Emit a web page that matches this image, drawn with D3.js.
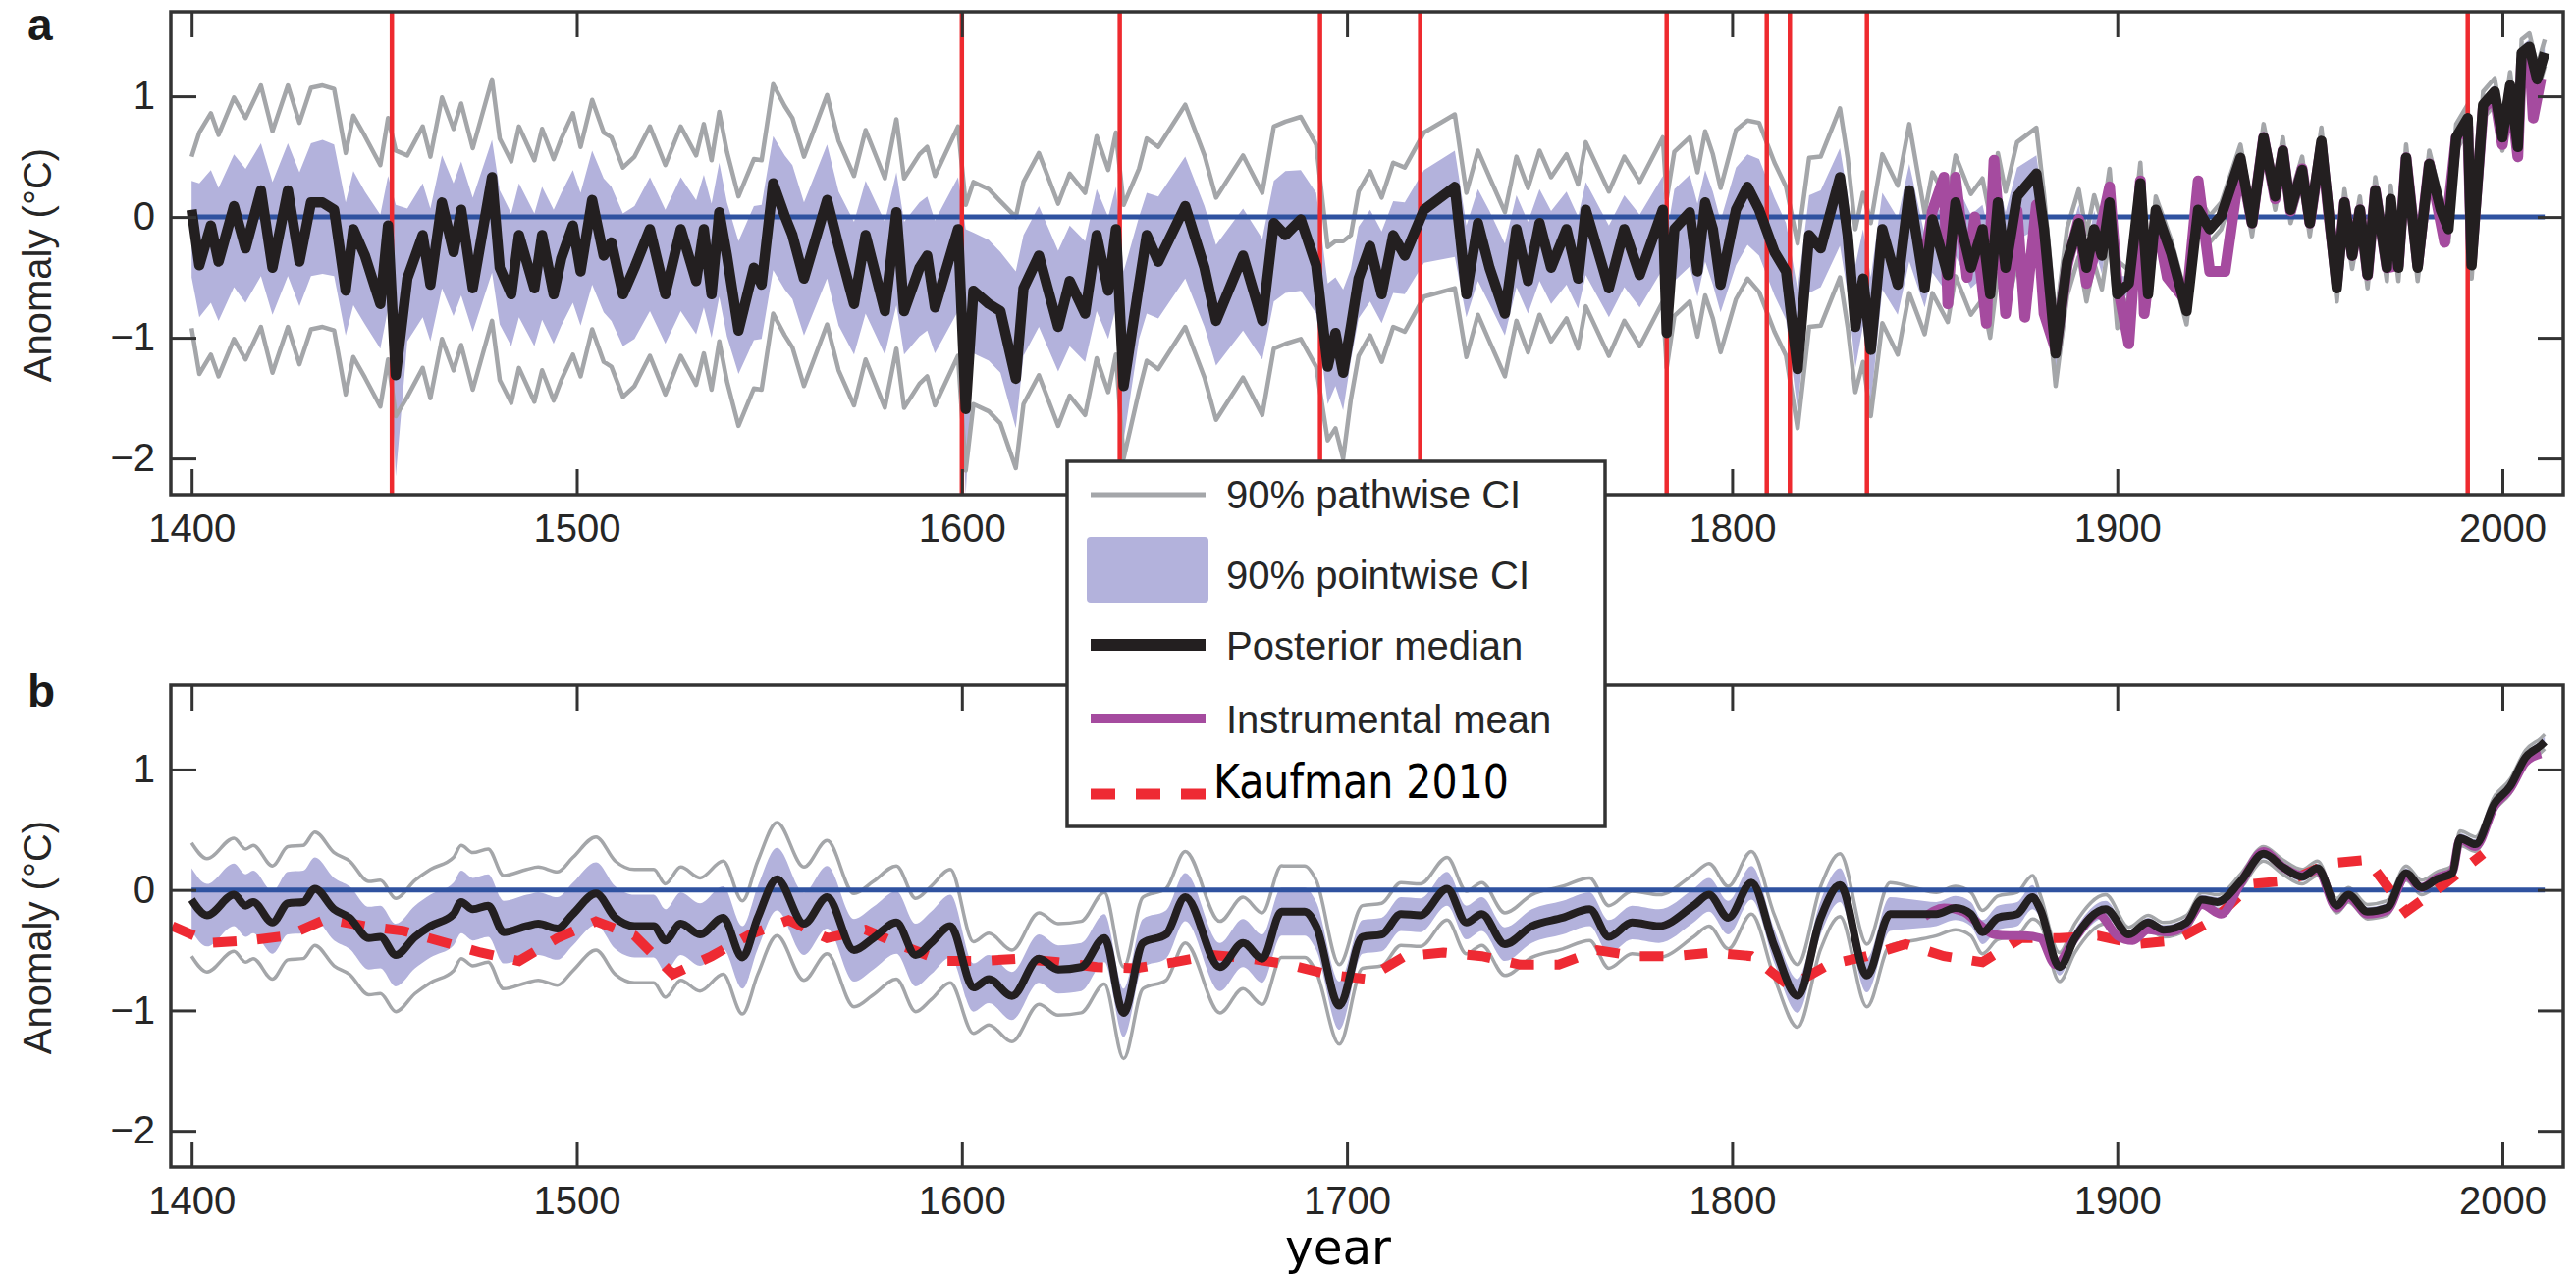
<!DOCTYPE html>
<html>
<head>
<meta charset="utf-8">
<script src="https://cdn.jsdelivr.net/npm/d3@7"></script>
<style>
body{margin:0;background:#fff}
</style>
</head>
<body>
<svg id="chart"></svg>
<script>
/* ---------- panel a : annual reconstruction ---------- */
var yearA = [
 1400,1402,1405,1407,1411,1414,1418,1421,1425,1428,1431,1434,1437,1440,1442,1445,1449,1451,1453,1456,1460,1462,1465,1468,1470,1473,1478,1480,1483,1485,1489,1491,1494,1496,1499,
 1501,1504,1507,1509,1512,1515,1519,1523,1527,1531,1533,1535,1537,1539,1542,1546,1548,1551,1554,1556,1559,1565,1568,1572,1575,1580,1583,1585,1589,1591,1593,1599,
 1601,1603,1607,1610,1614,1616,1620,1625,1628,1632,1635,1638,1640,1642,1646,1648,1651,1658,1663,1666,1673,1678,1681,1684,1688,1692,1695,1697,1699,
 1701,1703,1706,1709,1712,1715,1720,1728,1731,1734,1737,1741,1744,1747,1750,1753,1757,1760,1762,1768,1772,1776,1782,1783,1785,1789,1791,1793,1795,1797,
 1801,1804,1807,1811,1814,1817,1820,1823,1828,1830,1832,1834,1836,1839,1843,1846,
 1850,1852,1856,1858,1862,1865,1867,1869,1871,1874,1879,
 1881,1884,1887,1890,1892,1894,1896,1898,1900,
 1903,1906,1908,1910,1914,1918,1921,1924,1927,1932,1935,1938,1941,1943,1945,1948,1950,1953,1955,1957,
 1959,1961,1963,1965,1967,1970,1971,1973,1975,1978,1981,1984,1986,1988,1991,1992,1995,1998,2000,2002,
 2004,2005,2007,2009,2011];

var medianA = [
 .06,-.40,-.07,-.37,.09,-.26,.22,-.42,.22,-.37,.12,.12,.06,-.61,-.10,-.32,-.72,-.07,-1.31,-.51,-.15,-.56,.12,-.29,.06,-.59,.33,-.42,-.64,-.15,-.59,-.15,-.64,-.34,-.07,
 -.45,.14,-.32,-.21,-.64,-.42,-.10,-.64,-.10,-.53,-.10,-.64,.04,-.32,-.94,-.42,-.56,.28,.01,-.15,-.51,.14,-.24,-.72,-.15,-.78,.04,-.78,-.42,-.32,-.75,-.10,
 -1.59,-.61,-.72,-.78,-1.34,-.59,-.32,-.91,-.53,-.80,-.15,-.61,-.10,-1.40,-.56,-.15,-.37,.09,-.42,-.86,-.32,-.86,-.05,-.15,-.02,-.40,-1.24,-.96,-1.29,
 -.91,-.51,-.24,-.64,-.15,-.32,.06,.25,-.64,-.05,-.42,-.80,-.10,-.53,-.05,-.42,-.10,-.51,.06,-.59,-.10,-.48,.06,-.96,-.10,.04,-.45,.12,-.10,-.56,
 .06,.25,.06,-.29,-.45,-1.26,-.15,-.26,.33,-.15,-.91,-.51,-1.10,-.10,-.56,.22,
 -.59,-.02,-.48,.12,-.42,-.10,-.64,.12,-.42,.17,.36,
 -.10,-1.13,-.37,-.05,-.42,-.10,-.32,.12,-.64,
 -.55,.28,-.64,.06,-.30,-.78,.06,-.10,.01,.49,-.05,.66,.17,.55,.06,.39,-.05,.63,.01,-.59,
 .12,-.32,.06,-.48,.22,-.42,.15,-.42,.49,-.42,.44,.06,-.10,.66,.82,-.40,.93,1.04,.66,1.09,
 .58,1.36,1.41,1.14,1.36];

/* 90% pointwise CI, lower and upper */
var pointLoA = [
 -.50,-.83,-.71,-.86,-.58,-.71,-.49,-.81,-.49,-.74,-.49,-.47,-.49,-.98,-.73,-.89,-1.09,-.76,-2.15,-1.03,-.83,-1.03,-.59,-.82,-.65,-.95,-.46,-.89,-1.07,-.83,-1.07,-.85,-1.05,-.90,-.71,
 -.90,-.56,-.79,-.86,-1.07,-1.01,-.78,-1.05,-.78,-.97,-.75,-1.00,-.66,-.99,-1.30,-1.02,-1.01,-.44,-.60,-.68,-.98,-.51,-.90,-1.14,-.80,-1.14,-.73,-1.14,-.99,-.94,-1.13,-.78,
 -2.30,-1.13,-1.19,-1.29,-1.75,-1.15,-.91,-1.28,-1.07,-1.20,-.78,-1.01,-.75,-1.85,-1.01,-.80,-.84,-.51,-.91,-1.23,-.94,-1.18,-.70,-.63,-.61,-.80,-1.55,-1.40,-1.60,
 -1.19,-.84,-.70,-.88,-.63,-.64,-.38,-.33,-.83,-.53,-.72,-.98,-.58,-.80,-.53,-.72,-.56,-.76,-.48,-.83,-.58,-.75,-.43,-1.10,-.53,-.41,-.66,-.37,-.56,-.79,
 -.40,-.23,-.32,-.65,-.85,-1.60,-.63,-.58,-.24,-.63,-1.25,-.90,-1.55,-.60,-.81,-.37,
 -.75,-.46,-.64,-.32,-.59,-.50,-.77,-.29,-.56,-.19,-.10,
 -.25,-1.30,-.52,-.20,-.57,-.25,-.47,-.03,-.79,
 -.61,.22,-.70,.00,-.36,-.84,.00,-.16,-.05,.43,-.11,.60,.11,.49,.00,.33,-.11,.57,-.05,-.65,
 .06,-.38,.00,-.54,.16,-.48,.09,-.48,.43,-.48,.38,.00,-.16,.60,.76,-.46,.87,.98,.60,1.03,
 .52,1.30,1.35,1.08,1.30];
var pointHiA = [
 .30,.28,.39,.24,.52,.40,.61,.29,.61,.37,.61,.64,.60,.12,.38,.21,.02,.34,.10,.07,.28,.07,.51,.28,.46,.16,.64,.22,.03,.28,.03,.25,.06,.20,.39,
 .20,.55,.32,.25,.03,.09,.33,.06,.33,.14,.35,.11,.45,.12,-.20,.09,.10,.67,.51,.43,.12,.60,.21,-.04,.30,-.04,.37,-.04,.12,.17,-.03,.33,
 -.10,-.13,-.19,-.29,-.45,-.15,.09,-.28,-.07,-.20,.23,.00,.25,-.45,.00,.20,.17,.50,.09,-.23,.07,-.18,.30,.38,.39,.20,-.55,-.50,-.60,
 -.43,-.08,.06,-.12,.13,.12,.39,.55,-.07,.23,.05,-.22,.18,-.04,.23,.05,.21,.00,.29,-.07,.18,.02,.34,-.15,.23,.35,.11,.39,.21,-.03,
 .41,.52,.48,.16,-.05,-.60,.18,.22,.57,.18,-.40,-.10,-.50,.20,-.01,.44,
 -.15,.14,-.04,.29,.02,.10,-.17,.31,.04,.41,.51,
 .05,-.98,-.22,.10,-.27,.05,-.17,.27,-.49,
 -.49,.34,-.58,.12,-.24,-.72,.12,-.04,.07,.55,.01,.72,.23,.61,.12,.45,.01,.69,.07,-.53,
 .18,-.26,.12,-.42,.28,-.36,.21,-.36,.55,-.36,.50,.12,-.04,.72,.88,-.34,.99,1.10,.72,1.15,
 .64,1.42,1.47,1.20,1.42];

/* 90% pathwise CI, lower and upper */
var pathLoA = [
 -.92,-1.30,-1.14,-1.32,-1.01,-1.18,-.91,-1.29,-.91,-1.22,-.93,-.91,-.94,-1.47,-1.16,-1.33,-1.57,-1.18,-1.65,-1.49,-1.25,-1.50,-1.01,-1.27,-1.06,-1.43,-.86,-1.35,-1.54,-1.25,-1.53,-1.27,-1.52,-1.35,-1.14,
 -1.32,-.93,-1.20,-1.24,-1.49,-1.40,-1.15,-1.47,-1.15,-1.39,-1.13,-1.43,-1.03,-1.36,-1.73,-1.42,-1.43,-.80,-.98,-1.08,-1.40,-.89,-1.27,-1.56,-1.18,-1.58,-1.09,-1.58,-1.38,-1.32,-1.56,-1.15,
 -2.10,-1.55,-1.61,-1.71,-2.08,-1.55,-1.31,-1.73,-1.48,-1.64,-1.17,-1.45,-1.14,-2.00,-1.44,-1.19,-1.26,-.91,-1.33,-1.68,-1.33,-1.64,-1.09,-1.05,-1.01,-1.24,-1.85,-1.75,-2.00,
 -1.51,-1.15,-.98,-1.20,-.91,-.95,-.66,-.59,-1.16,-.81,-1.03,-1.32,-.86,-1.12,-.81,-1.03,-.84,-1.09,-.74,-1.15,-.86,-1.07,-.70,-1.25,-.82,-.70,-.99,-.65,-.84,-1.12,
 -.68,-.51,-.62,-.95,-1.15,-1.75,-.91,-.90,-.50,-.91,-1.45,-1.20,-1.65,-.88,-1.14,-.63,
 -.97,-.63,-.87,-.49,-.81,-.68,-1.00,-.47,-.79,-.38,-.26,
 -.38,-1.40,-.65,-.33,-.70,-.38,-.60,-.16,-.92,
 -.66,.17,-.75,-.05,-.41,-.89,-.05,-.21,-.10,.38,-.16,.55,.06,.44,-.05,.28,-.16,.52,-.10,-.70,
 .01,-.43,-.05,-.59,.11,-.53,.04,-.53,.38,-.53,.33,-.05,-.21,.55,.71,-.51,.82,.93,.55,.98,
 .47,1.25,1.30,1.03,1.25];
var pathHiA = [
 .50,.70,.86,.68,.99,.82,1.09,.71,1.09,.78,1.07,1.09,1.06,.53,.84,.67,.43,.82,.55,.51,.75,.50,.99,.73,.94,.57,1.14,.65,.46,.75,.47,.73,.48,.65,.86,
 .58,.97,.70,.66,.41,.50,.75,.43,.75,.51,.77,.47,.87,.54,.17,.48,.47,1.10,.92,.82,.50,1.01,.63,.34,.72,.32,.81,.32,.52,.58,.34,.75,
 .10,.29,.23,.13,.00,.29,.53,.11,.36,.20,.67,.39,.70,.10,.40,.65,.58,.93,.51,.16,.51,.20,.75,.79,.83,.60,-.25,-.20,-.20,
 -.15,.21,.38,.16,.45,.41,.70,.85,.20,.55,.33,.04,.50,.24,.55,.33,.52,.27,.62,.21,.50,.29,.66,.15,.54,.66,.37,.71,.52,.24,
 .72,.80,.78,.45,.25,-.22,.49,.50,.90,.49,-.10,.20,-.05,.52,.26,.77,
 .03,.37,.13,.51,.19,.32,.00,.53,.21,.62,.74,
 .18,-.85,-.09,.23,-.14,.18,-.04,.40,-.36,
 -.44,.45,-.53,.17,-.19,-.67,.17,.01,.12,.60,.06,.77,.28,.66,.17,.50,.06,.74,.12,-.48,
 .23,-.21,.17,-.37,.33,-.31,.26,-.31,.60,-.31,.55,.17,.01,.77,.93,-.29,1.04,1.15,.77,1.20,
 .69,1.47,1.52,1.25,1.47];

/* instrumental mean, panel a */
var instYearA = [1850,1852,1855,1856,1858,1861,1863,1866,1868,1871,1874,1876,1879,1881,1884,1887,1890,1892,1895,1898,1900,1903,1906,1907,1910,1913,1918,1921,1924,1928,
 1932,1935,1938,1941,1943,1945,1948,1950,1953,1955,1957,1959,1961,1963,1965,1967,1970,1973,1975,1978,1981,1985,1988,1991,1992,1995,1998,2000,2002,2004,2005,2007,2008,2010];
var instA = [-.35,.05,.33,-.72,.33,-.50,.00,-.88,.47,-.80,.05,-.83,.10,-.80,-1.10,-.40,-.02,-.55,-.20,.25,-.55,-1.05,.30,-.80,.00,-.50,-.70,.30,-.45,-.45,
 .45,-.05,.66,.15,.55,.05,.40,-.05,.60,.00,-.55,.12,-.32,.06,-.48,.22,-.42,-.40,.49,-.40,.44,-.21,.66,.75,-.35,.90,1.00,.60,1.05,.50,1.30,1.35,.82,1.15];

/* volcanic eruption years marked in panel a */
var volcanoYears = [1452,1600,1641,1693,1719,1783,1809,1815,1835,1991];

/* ---------- panel b : smoothed reconstruction ---------- */
var yearB = [
 1400,1404,1411,1414,1416,1421,1425,1429,1432,1437,1441,1446,1449,1453,1458,1462,1468,1470,1473,1477,1481,1487,1490,1495,1499,
 1505,1510,1515,1520,1523,1527,1532,1538,1543,1547,1552,1559,1565,1572,1577,1583,1588,1592,1597,
 1603,1607,1613,1620,1625,1631,1637,1642,1647,1653,1658,1667,1673,1678,1683,1689,1692,1698,
 1704,1709,1714,1719,1726,1731,1735,1741,1748,1756,1763,1768,1774,1781,1790,1794,1799,
 1805,1811,1817,1823,1828,1835,1841,1847,
 1853,1858,1862,1865,1869,1874,1878,1880,1885,1889,1897,
 1903,1908,1912,1918,1922,1926,1932,1938,1943,1948,1952,1957,1960,1965,1970,1975,1979,1983,1987,1989,1993,1998,2002,2006,2010,2011];
var medianB = [
 -.08,-.21,-.04,-.13,-.10,-.27,-.11,-.10,.01,-.16,-.23,-.40,-.39,-.54,-.39,-.30,-.20,-.10,-.16,-.13,-.35,-.30,-.28,-.32,-.20,
 -.03,-.23,-.30,-.30,-.42,-.28,-.37,-.23,-.56,-.23,.09,-.28,-.06,-.50,-.40,-.27,-.54,-.44,-.30,
 -.81,-.74,-.88,-.57,-.66,-.64,-.40,-1.02,-.44,-.37,-.06,-.64,-.44,-.57,-.18,-.18,-.30,-.96,
 -.39,-.37,-.20,-.21,.01,-.27,-.20,-.45,-.30,-.23,-.16,-.39,-.27,-.30,-.13,-.04,-.23,
 .06,-.47,-.88,-.23,.04,-.71,-.20,-.20,
 -.20,-.15,-.20,-.35,-.23,-.20,-.06,-.16,-.64,-.40,-.16,
 -.37,-.27,-.33,-.27,-.08,-.10,.07,.30,.19,.11,.18,-.13,-.04,-.18,-.15,.14,.02,.09,.14,.43,.38,.72,.86,1.10,1.20,1.23];
var pointLoB = [
 -.34,-.47,-.30,-.39,-.36,-.53,-.37,-.36,-.25,-.42,-.49,-.66,-.65,-.80,-.65,-.56,-.46,-.36,-.42,-.39,-.61,-.56,-.54,-.58,-.46,
 -.29,-.49,-.56,-.56,-.68,-.54,-.63,-.49,-.82,-.49,-.17,-.54,-.32,-.76,-.66,-.53,-.80,-.70,-.56,
 -1.01,-.94,-1.08,-.77,-.86,-.84,-.60,-1.22,-.64,-.57,-.26,-.84,-.64,-.77,-.38,-.38,-.50,-1.16,
 -.53,-.51,-.34,-.35,-.13,-.41,-.34,-.59,-.44,-.37,-.30,-.53,-.41,-.44,-.27,-.18,-.37,
 -.08,-.61,-1.02,-.37,-.10,-.85,-.34,-.32,
 -.30,-.25,-.30,-.45,-.33,-.30,-.16,-.23,-.71,-.47,-.23,
 -.41,-.31,-.37,-.31,-.12,-.14,.03,.26,.15,.07,.14,-.17,-.08,-.22,-.19,.10,-.02,.05,.10,.39,.34,.68,.82,1.06,1.16,1.19];
var pointHiB = [
 .18,.05,.22,.13,.16,-.01,.15,.16,.27,.10,.03,-.14,-.13,-.28,-.13,-.04,.06,.16,.10,.13,-.09,-.04,-.02,-.06,.06,
 .23,.03,-.04,-.04,-.16,-.02,-.11,.03,-.30,.03,.35,-.02,.20,-.24,-.14,-.01,-.28,-.18,-.04,
 -.61,-.54,-.68,-.37,-.46,-.44,-.20,-.82,-.24,-.17,.14,-.44,-.24,-.37,.02,.02,-.10,-.76,
 -.25,-.23,-.06,-.07,.15,-.13,-.06,-.31,-.16,-.09,-.02,-.25,-.13,-.16,.01,.10,-.09,
 .20,-.33,-.74,-.09,.18,-.57,-.06,-.08,
 -.10,-.05,-.10,-.25,-.13,-.10,.04,-.09,-.57,-.33,-.09,
 -.33,-.23,-.29,-.23,-.04,-.06,.11,.34,.23,.15,.22,-.09,.00,-.14,-.11,.18,.06,.13,.18,.47,.42,.76,.90,1.14,1.24,1.27];
var pathLoB = [
 -.55,-.68,-.51,-.60,-.57,-.74,-.58,-.57,-.46,-.63,-.70,-.87,-.86,-1.01,-.86,-.77,-.67,-.57,-.63,-.60,-.82,-.77,-.75,-.79,-.67,
 -.50,-.70,-.77,-.77,-.89,-.75,-.84,-.70,-1.03,-.70,-.38,-.75,-.53,-.97,-.87,-.74,-1.01,-.91,-.77,
 -1.19,-1.12,-1.26,-.95,-1.04,-1.02,-.78,-1.40,-.82,-.75,-.44,-1.02,-.82,-.95,-.56,-.56,-.68,-1.28,
 -.65,-.63,-.46,-.47,-.25,-.53,-.46,-.71,-.56,-.49,-.42,-.65,-.53,-.56,-.39,-.30,-.49,
 -.20,-.73,-1.14,-.49,-.22,-.97,-.46,-.42,
 -.38,-.33,-.38,-.53,-.41,-.38,-.24,-.28,-.76,-.52,-.28,
 -.43,-.33,-.39,-.33,-.14,-.16,.01,.24,.13,.05,.12,-.19,-.10,-.24,-.21,.08,-.04,.03,.08,.37,.32,.66,.80,1.04,1.14,1.17];
var pathHiB = [
 .39,.26,.43,.34,.37,.20,.36,.37,.48,.31,.24,.07,.08,-.07,.08,.17,.27,.37,.31,.34,.12,.17,.19,.15,.27,
 .44,.24,.17,.17,.05,.19,.10,.24,-.09,.24,.56,.19,.41,-.03,.07,.20,-.07,.03,.17,
 -.43,-.36,-.50,-.19,-.28,-.26,-.02,-.64,-.06,.01,.32,-.26,-.06,-.19,.20,.20,.08,-.62,
 -.13,-.11,.06,.05,.27,-.01,.06,-.19,-.04,.03,.10,-.13,-.01,-.04,.13,.22,.03,
 .32,-.21,-.62,.03,.30,-.45,.06,.02,
 -.02,.03,-.02,-.17,-.05,-.02,.12,-.04,-.52,-.28,-.04,
 -.31,-.21,-.27,-.21,-.02,-.04,.13,.36,.25,.17,.24,-.07,.02,-.12,-.09,.20,.08,.15,.20,.49,.44,.78,.92,1.16,1.26,1.29];

/* instrumental mean, panel b */
var instYearB = [1850,1855,1860,1864,1868,1872,1876,1880,1884,1889,1895,1900,1904,1908,1913,1918,1922,1927,1932,1938,1943,1948,1952,1957,1960,1965,1970,1975,1979,1983,1987,1989,1993,1998,2002,2006,2010];
var instB = [-.22,-.15,-.18,-.28,-.37,-.38,-.38,-.40,-.62,-.40,-.20,-.38,-.42,-.33,-.35,-.28,-.12,-.20,.05,.32,.19,.12,.17,-.15,-.06,-.20,-.17,.12,.02,.10,.15,.42,.36,.70,.84,1.06,1.13];

/* Kaufman et al. 2010 decadal reconstruction */
var kaufYear = [1395,1405,1415,1425,1435,1445,1455,1465,1475,1485,1495,1505,1515,1525,1535,1545,1555,1565,1575,1585,1595,
 1605,1615,1625,1635,1645,1655,1665,1675,1685,1695,1705,1715,1725,1735,1745,1755,1765,1775,1785,1795,
 1805,1815,1825,1835,1845,1855,1865,1875,1885,1895,1905,1915,1925,1935,1945,1955,1965,1975,1985,1995];
var kaufVal = [-.30,-.44,-.42,-.38,-.24,-.30,-.34,-.43,-.52,-.59,-.40,-.26,-.38,-.70,-.55,-.37,-.25,-.40,-.33,-.47,-.59,
 -.59,-.57,-.60,-.64,-.65,-.60,-.54,-.57,-.62,-.70,-.74,-.55,-.52,-.55,-.62,-.62,-.50,-.55,-.55,-.52,
 -.55,-.80,-.62,-.55,-.45,-.55,-.60,-.40,-.40,-.38,-.45,-.42,-.25,.05,.08,.22,.25,-.18,.05,.30];

/* axes and legend text */
var xTicks = [1400,1500,1600,1700,1800,1900,2000];
var yTicks = [-2,-1,0,1];
var legendLabels = ["90% pathwise CI","90% pointwise CI","Posterior median","Instrumental mean","Kaufman 2010"];

/* ---------- drawing ---------- */
var W = 2624, H = 1300;
var frame = {left:174, right:2611};
var helv = "'Liberation Sans', Arial, Helvetica, sans-serif";
var colors = {band:"#b3b2dc", path:"#a4a6a9", zero:"#2f52a0", volcano:"#ee2a2f",
              inst:"#a54b9f", median:"#231f20", kauf:"#ee2a33", axis:"#333333", text:"#262626"};

var svg = d3.select("#chart").attr("width",W).attr("height",H);
svg.append("rect").attr("width",W).attr("height",H).attr("fill","#fff");

var xScale = d3.scaleLinear().domain([1394.6,2015.8]).range([frame.left,frame.right]);

var makeRows = function(years,med,lo,hi,plo,phi)
{
    return years.map(function(y,i){
        return {year:y, med:med[i], lo:lo[i], hi:hi[i], plo:plo[i], phi:phi[i]};
    });
}

var drawPanel = function(p)
{
    var yScale = d3.scaleLinear().domain([-2.3,1.7]).range([p.bottom,p.top]);
    var curve = p.smooth ? d3.curveMonotoneX : d3.curveLinear;
    var g = svg.append("g");

    svg.append("clipPath").attr("id","clip"+p.label)
        .append("rect")
        .attr("x",frame.left).attr("y",p.top)
        .attr("width",frame.right-frame.left).attr("height",p.bottom-p.top);
    var plot = g.append("g").attr("clip-path","url(#clip"+p.label+")");

    //pointwise band
    plot.append("path").datum(p.rows)
        .attr("d",d3.area().curve(curve)
            .x(function(d){return xScale(d.year);})
            .y0(function(d){return yScale(d.lo);})
            .y1(function(d){return yScale(d.hi);}))
        .attr("fill",colors.band);

    //pathwise lines
    ["plo","phi"].forEach(function(key){
        plot.append("path").datum(p.rows)
            .attr("d",d3.line().curve(curve)
                .x(function(d){return xScale(d.year);})
                .y(function(d){return yScale(d[key]);}))
            .attr("fill","none").attr("stroke",colors.path)
            .attr("stroke-width",p.pathWidth).attr("stroke-linejoin","round");
    });

    //zero line
    plot.append("line")
        .attr("x1",xScale(1400)).attr("x2",xScale(2011))
        .attr("y1",yScale(0)).attr("y2",yScale(0))
        .attr("stroke",colors.zero).attr("stroke-width",5);

    //volcanoes
    if(p.volcanoes)
    {
        plot.selectAll(".volc").data(p.volcanoes).enter().append("line")
            .attr("x1",function(d){return xScale(d);})
            .attr("x2",function(d){return xScale(d);})
            .attr("y1",p.top).attr("y2",p.bottom)
            .attr("stroke",colors.volcano).attr("stroke-width",4.5);
    }

    //kaufman dashed
    if(p.kauf)
    {
        plot.append("path").datum(p.kauf)
            .attr("d",d3.line()
                .x(function(d){return xScale(d.year);})
                .y(function(d){return yScale(d.v);}))
            .attr("fill","none").attr("stroke",colors.kauf)
            .attr("stroke-width",10).attr("stroke-dasharray","24,21");
    }

    //instrumental
    plot.append("path").datum(p.inst)
        .attr("d",d3.line().curve(curve)
            .x(function(d){return xScale(d.year);})
            .y(function(d){return yScale(d.v);}))
        .attr("fill","none").attr("stroke",colors.inst)
        .attr("stroke-width",p.instWidth).attr("stroke-linejoin","round");

    //posterior median
    plot.append("path").datum(p.rows)
        .attr("d",d3.line().curve(curve)
            .x(function(d){return xScale(d.year);})
            .y(function(d){return yScale(d.med);}))
        .attr("fill","none").attr("stroke",colors.median)
        .attr("stroke-width",p.medWidth).attr("stroke-linejoin","round");

    //axes, ticks inside on all four sides
    var axes = [
        {ax:d3.axisBottom(xScale).tickValues(xTicks).tickSize(-26).tickPadding(20).tickFormat(d3.format("d")), t:"translate(0,"+p.bottom+")", labels:true},
        {ax:d3.axisTop(xScale).tickValues(xTicks).tickSize(-26).tickFormat(""), t:"translate(0,"+p.top+")"},
        {ax:d3.axisLeft(yScale).tickValues(yTicks).tickSize(-26).tickPadding(16).tickFormat(d3.format("d")), t:"translate("+frame.left+",0)"},
        {ax:d3.axisRight(yScale).tickValues(yTicks).tickSize(-26).tickFormat(""), t:"translate("+frame.right+",0)"}
    ];
    axes.forEach(function(a){
        var ag = g.append("g").attr("transform",a.t).call(a.ax);
        ag.select(".domain").remove();
        ag.selectAll(".tick line").attr("stroke",colors.axis).attr("stroke-width",3);
        ag.selectAll(".tick text").attr("font-family",helv).attr("font-size",40).attr("fill",colors.text);
        //the legend box hides this label in panel a
        if(a.labels && p.hiddenTick)
        {
            ag.selectAll(".tick").filter(function(d){return d===p.hiddenTick;})
                .select("text").remove();
        }
    });

    //frame
    g.append("rect")
        .attr("x",frame.left).attr("y",p.top)
        .attr("width",frame.right-frame.left).attr("height",p.bottom-p.top)
        .attr("fill","none").attr("stroke",colors.axis).attr("stroke-width",3.5);

    //y label
    g.append("text")
        .attr("transform","translate(52,"+p.labelY+") rotate(-90)")
        .attr("text-anchor","middle")
        .attr("font-family",helv).attr("font-size",40).attr("fill",colors.text)
        .text("Anomaly (\u00B0C)");

    //panel letter
    g.append("text")
        .attr("x",28).attr("y",p.letterY)
        .attr("font-family",helv).attr("font-size",46).attr("font-weight","bold")
        .attr("fill","#1a1a1a")
        .text(p.label);
}

var toPts = function(years,vals)
{
    return years.map(function(y,i){return {year:y, v:vals[i]};});
}

drawPanel({label:"a", top:12, bottom:504, smooth:false, labelY:270, letterY:41, hiddenTick:1700,
    rows:makeRows(yearA,medianA,pointLoA,pointHiA,pathLoA,pathHiA),
    inst:toPts(instYearA,instA), volcanoes:volcanoYears,
    pathWidth:4.5, instWidth:11, medWidth:10.5});

drawPanel({label:"b", top:698, bottom:1189, smooth:true, labelY:955, letterY:720,
    rows:makeRows(yearB,medianB,pointLoB,pointHiB,pathLoB,pathHiB),
    inst:toPts(instYearB,instB), kauf:toPts(kaufYear,kaufVal),
    pathWidth:3.5, instWidth:9, medWidth:8});

/* legend box sitting across both panels */
var leg = svg.append("g");
leg.append("rect").attr("x",1087).attr("y",470).attr("width",548).attr("height",372)
    .attr("fill","#fff").attr("stroke",colors.axis).attr("stroke-width",3.5);
leg.append("line").attr("x1",1111).attr("x2",1228).attr("y1",504).attr("y2",504)
    .attr("stroke",colors.path).attr("stroke-width",5);
leg.append("rect").attr("x",1107).attr("y",547).attr("width",124).attr("height",67).attr("rx",4)
    .attr("fill",colors.band);
leg.append("line").attr("x1",1111).attr("x2",1228).attr("y1",657).attr("y2",657)
    .attr("stroke",colors.median).attr("stroke-width",12);
leg.append("line").attr("x1",1111).attr("x2",1228).attr("y1",732).attr("y2",732)
    .attr("stroke",colors.inst).attr("stroke-width",10);
leg.append("line").attr("x1",1111).attr("x2",1228).attr("y1",809).attr("y2",809)
    .attr("stroke",colors.kauf).attr("stroke-width",11).attr("stroke-dasharray","25,21");

var legY = [518,600,672,747];
legY.forEach(function(y,i){
    leg.append("text").attr("x",1249).attr("y",y)
        .attr("font-family",helv).attr("font-size",40).attr("fill",colors.text)
        .text(legendLabels[i]);
});
leg.append("text").attr("x",1236).attr("y",813)
    .attr("font-family","'DejaVu Sans Condensed','DejaVu Sans',sans-serif")
    .attr("font-size",48).attr("fill","#000")
    .attr("textLength",301).attr("lengthAdjust","spacingAndGlyphs")
    .text(legendLabels[4]);

/* x axis title */
svg.append("text").attr("x",1309).attr("y",1288)
    .attr("font-family","'DejaVu Sans Condensed','DejaVu Sans',sans-serif")
    .attr("font-size",50).attr("fill","#000")
    .attr("textLength",108).attr("lengthAdjust","spacingAndGlyphs")
    .text("year");
</script>
</body>
</html>
